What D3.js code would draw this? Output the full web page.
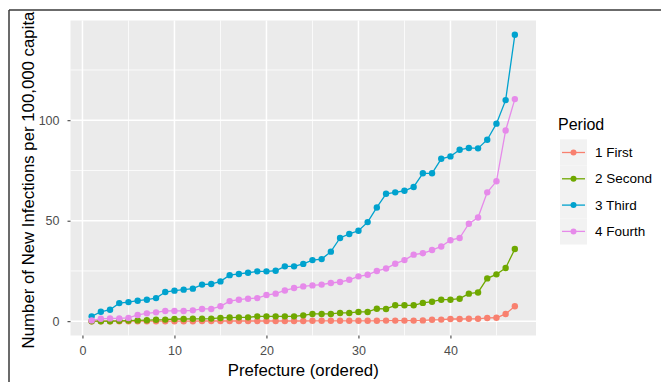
<!DOCTYPE html>
<html><head><meta charset="utf-8">
<script src="https://cdn.jsdelivr.net/npm/d3@7"></script>
<style>body{margin:0;background:#fff}svg{display:block}text{font-family:"Liberation Sans",Arial,sans-serif}</style>
</head><body><svg id="c" width="661" height="382"></svg>
<script>
const prefectures = d3.range(1, 48);
const periods = ["1 First", "2 Second", "3 Third", "4 Fourth"];
const colors = ["#F8806F", "#6FA800", "#00A2CE", "#E68AEA"];
const first = [0,0,0,0,0,0,0,0,0,0,0,0,0.1,0.1,0.1,0.1,0.1,0.1,0.1,0.1,0.1,0.1,0.1,0.1,0.2,0.2,0.2,0.2,0.2,0.2,0.2,0.2,0.3,0.3,0.3,0.3,0.4,0.7,0.8,1.1,1.1,1.2,1.2,1.6,1.7,3.6,7.4];
const second = [0,0,0,0.2,0.3,0.4,0.5,0.7,0.8,1.1,1.1,1.2,1.2,1.3,1.6,1.8,1.9,1.9,2.4,2.4,2.4,2.4,2.4,2.9,3.6,3.6,3.6,4.1,4.1,4.6,4.6,6.2,6.1,7.9,7.9,7.9,9.1,9.7,10.7,10.7,11.2,13.7,14.3,21.3,23.3,26.5,35.9];
const third = [2.4,4.7,5.7,9.0,9.5,10.2,10.7,11.5,14.5,15.2,15.7,16.2,18.2,18.5,19.8,22.9,23.5,24.1,24.8,24.8,25.1,27.3,27.3,28.5,30.4,30.9,34.6,41.4,43.4,45.0,49.3,56.6,63.4,64.1,64.9,66.8,73.6,73.6,80.8,82.0,85.3,86.2,86.0,90.3,98.3,110.0,142.5];
const fourth = [0.4,1.2,1.4,1.4,1.6,3.1,3.9,4.4,5.1,5.1,5.1,5.4,6.1,6.1,7.4,10.0,10.7,11.2,11.5,13.0,13.7,15.3,16.5,17.3,17.8,18.2,19.0,19.5,20.6,22.3,23.1,25.0,26.2,28.6,30.4,33.1,33.8,35.4,37.2,40.3,41.4,48.5,51.6,64.1,69.6,94.9,110.5];
const xTicks = [0, 10, 20, 30, 40];
const yTicks = [0, 50, 100];
const xMinor = [5, 15, 25, 35, 45];
const yMinor = [25, 75, 125];
const seriesValues = [first, second, third, fourth];

const svg = d3.select("#c");
const P = {l: 70.5, r: 536, t: 20.5, b: 335.5};

const x = d3.scaleLinear().domain([-1.3, 49.3]).range([P.l, P.r]);
const y = d3.scaleLinear().domain([-7.12, 149.62]).range([P.b, P.t]);

// outer frame
svg.append("line").attr("x1", 9).attr("x2", 661).attr("y1", 10).attr("y2", 10).attr("stroke", "#3a3a3a").attr("stroke-width", 1.5);
svg.append("line").attr("x1", 9).attr("x2", 9).attr("y1", 10).attr("y2", 382).attr("stroke", "#3a3a3a").attr("stroke-width", 1.5);

// panel
svg.append("rect").attr("x", P.l).attr("y", P.t).attr("width", P.r - P.l).attr("height", P.b - P.t).attr("fill", "#EBEBEB");
const g = svg.append("g");
xMinor.forEach(v => g.append("line").attr("x1", x(v)).attr("x2", x(v)).attr("y1", P.t).attr("y2", P.b).attr("stroke", "#fff").attr("stroke-width", 0.8));
yMinor.forEach(v => g.append("line").attr("y1", y(v)).attr("y2", y(v)).attr("x1", P.l).attr("x2", P.r).attr("stroke", "#fff").attr("stroke-width", 0.8));
xTicks.forEach(v => g.append("line").attr("x1", x(v)).attr("x2", x(v)).attr("y1", P.t).attr("y2", P.b).attr("stroke", "#fff").attr("stroke-width", 1.5));
yTicks.forEach(v => g.append("line").attr("y1", y(v)).attr("y2", y(v)).attr("x1", P.l).attr("x2", P.r).attr("stroke", "#fff").attr("stroke-width", 1.5));

// axes
const xa = svg.append("g").attr("transform", `translate(0,${P.b})`)
  .call(d3.axisBottom(x).tickValues(xTicks).tickSize(3).tickPadding(8));
const ya = svg.append("g").attr("transform", `translate(${P.l},0)`)
  .call(d3.axisLeft(y).tickValues(yTicks).tickSize(3).tickPadding(8));
[xa, ya].forEach(a => {
  a.select(".domain").remove();
  a.selectAll(".tick line").attr("stroke", "#333").attr("stroke-width", 1);
  a.selectAll(".tick text").attr("fill", "#4D4D4D").style("font-size", "12.5px").style("font-family", '"Liberation Sans",Arial,sans-serif');
});

// lines + points
const line = d3.line().x((d, i) => x(prefectures[i])).y(d => y(d));
seriesValues.forEach((vals, k) => {
  svg.append("path").datum(vals).attr("d", line).attr("fill", "none").attr("stroke", colors[k]).attr("stroke-width", 1.3);
  svg.append("g").selectAll("circle").data(vals).join("circle")
    .attr("cx", (d, i) => x(prefectures[i])).attr("cy", d => y(d)).attr("r", 3.2).attr("fill", colors[k]);
});

// axis titles
svg.append("text").attr("x", (P.l + P.r) / 2).attr("y", 376).attr("text-anchor", "middle")
  .attr("fill", "#000").style("font-size", "16.8px").text("Prefecture (ordered)");
svg.append("text").attr("transform", `translate(34,${180}) rotate(-90)`).attr("text-anchor", "middle")
  .attr("fill", "#000").style("font-size", "16.8px").text("Number of New Infections per 100,000 capita");

// legend
const L = svg.append("g").attr("transform", "translate(560,0)");
L.append("text").attr("x", -2).attr("y", 130).style("font-size", "16px").attr("fill", "#000").text("Period");
periods.forEach((p, k) => {
  const cy = 152.5 + k * 26.3;
  L.append("rect").attr("x", 0).attr("y", cy - 13.15).attr("width", 27).attr("height", 26.3).attr("fill", "#F2F2F2");
  L.append("line").attr("x1", 2).attr("x2", 25).attr("y1", cy).attr("y2", cy).attr("stroke", colors[k]).attr("stroke-width", 1.3);
  L.append("circle").attr("cx", 13.5).attr("cy", cy).attr("r", 3).attr("fill", colors[k]);
  L.append("text").attr("x", 35).attr("y", cy + 4.6).style("font-size", "13.5px").attr("fill", "#000").text(p);
});
</script></body></html>
